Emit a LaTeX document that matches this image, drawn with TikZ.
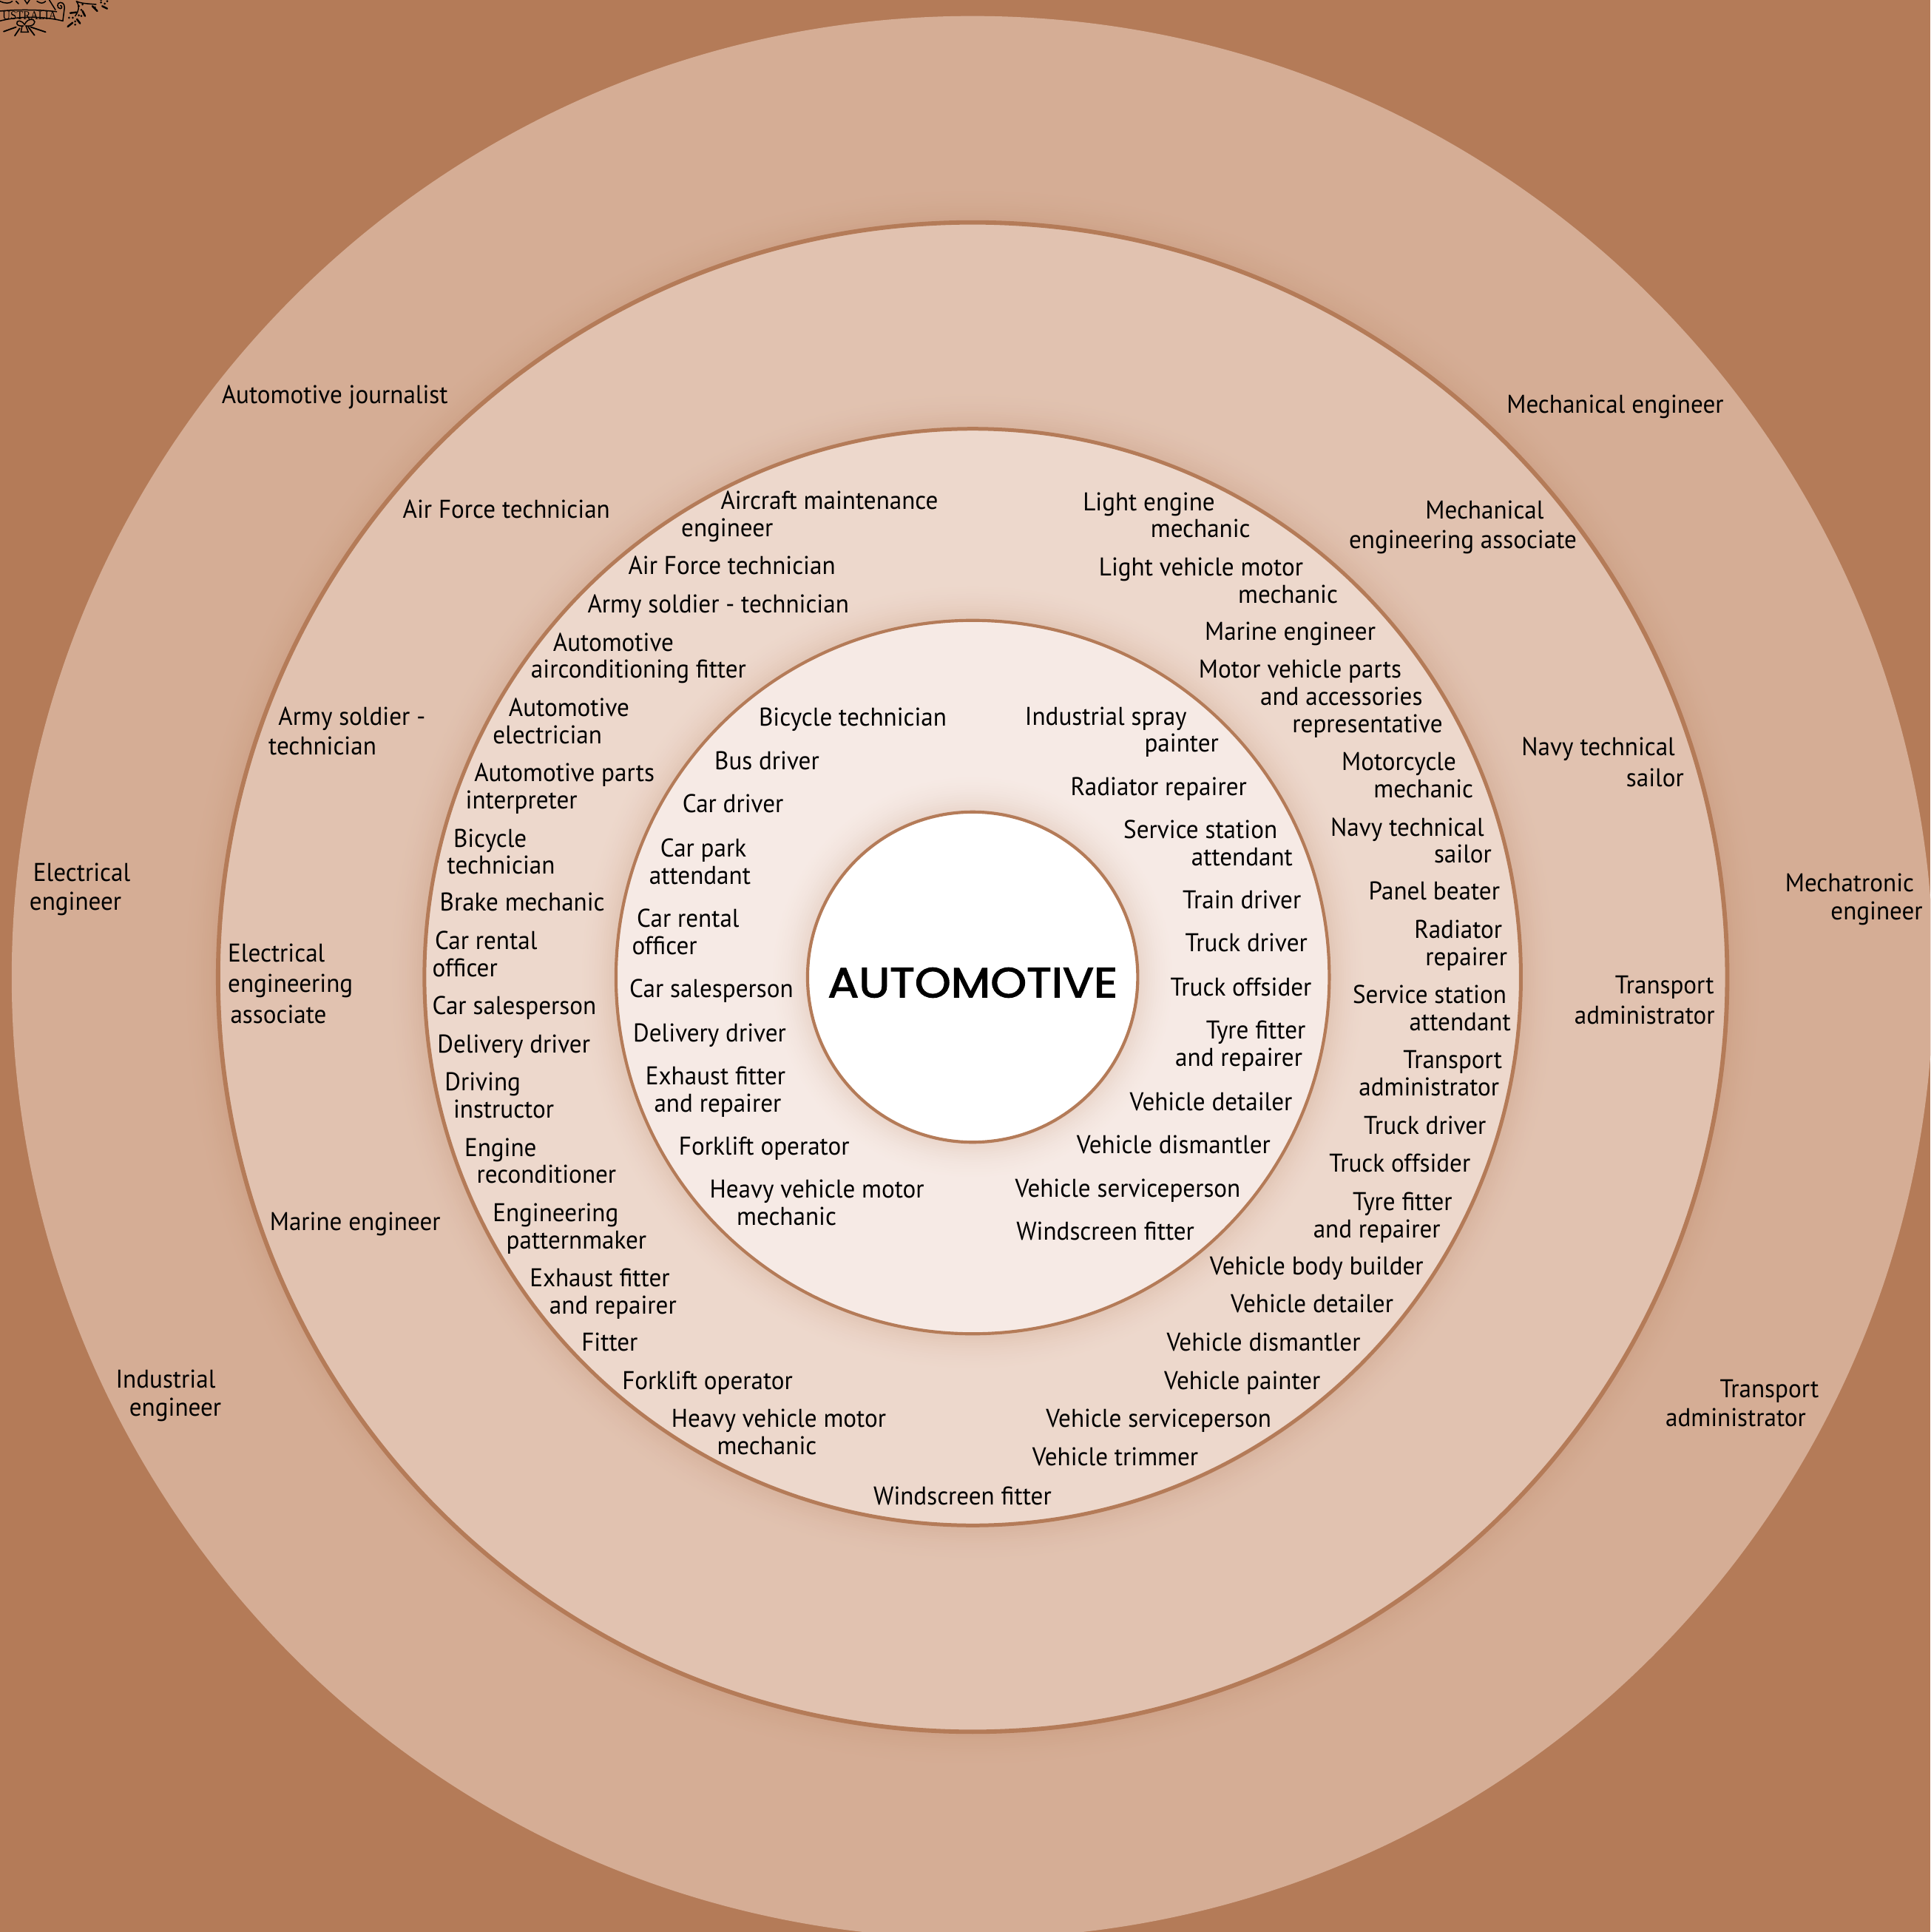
\documentclass[tikz,border=0pt]{standalone}
\usepackage{fontspec}
\usepackage{graphicx}
\setmainfont[FakeStretch=0.955]{PT Sans}
\definecolor{ringO}{HTML}{B47B58}
\definecolor{ringA}{HTML}{D5AD95}
\definecolor{ringB}{HTML}{E1C2B0}
\definecolor{ringC}{HTML}{EDD8CC}
\definecolor{ringD}{HTML}{F6EAE5}
\newlength\px
\setlength\px{0.02cm}
\newcommand\lsize{\fontsize{11.85pt}{13pt}\selectfont}
\newcounter{lab}
\tikzset{
  lab/.style={anchor=base west,inner sep=0pt,outer sep=0pt,font=\lsize,text=black},
  ringline/.style={draw=ringO,line width=#1\px},
}
\newcommand\one[3]{\stepcounter{lab}\node[lab] (t\arabic{lab}) at (#1,#2+7.4) {#3};}
% x y lead dx1 l1 dx2 l2
\newcommand\two[7]{\stepcounter{lab}\node[lab] (t\arabic{lab}) at (#1,#2+7.4) {\vtop{\baselineskip=#3\px\hbox{\kern#4\px #5}\hbox{\kern#6\px #7}}};}
\newcommand\three[9]{\stepcounter{lab}\node[lab] (t\arabic{lab}) at (#1,#2+7.4) {\vtop{\baselineskip=#3\px\hbox{\kern#4\px #5}\hbox{\kern#6\px #7}\hbox{\kern#8\px #9}}};}
% soft glow round a circle: radius, colour of the ring it falls on
\newcommand\glow[3]{\foreach \k in {32,30,...,2}{%
  \pgfmathsetmacro\p{#3*(1-\k/34)*(1-\k/34)}%
  \fill[ringO!\p!#2] (789.5,793) circle ({#1+\k});}}
\begin{document}
\begin{tikzpicture}[x=0.02cm,y=-0.02cm]
\useasboundingbox (0,0) rectangle (1567,1568);
\begin{scope}
\clip (0,0) rectangle (1567,1568);
\fill[ringO] (0,0) rectangle (1567,1568);
\fill[ringA] (789.5,793) circle (780);
\glow{612}{ringA}{22}
\fill[ringB,ringline=3.5] (789.5,793) circle (612.5);
\glow{445}{ringB}{22}
\fill[ringC,ringline=3] (789.5,793) circle (445);
\glow{289}{ringC}{22}
\fill[ringD,ringline=2.5] (789.5,793) circle (289.5);
\glow{134}{ringD}{20}
\fill[white,ringline=2.5] (789.5,793) circle (134);
% crest
\begin{scope}[black,line width=0.9\px,line cap=round]
\draw (0,9) .. controls (15,7.5) and (35,8) .. (46,9.5);
\draw (0,17) .. controls (15,13) and (35,13) .. (51,17) -- (52,9) .. controls (53,5) and (52,2) .. (49,2) .. controls (46,2) and (46,7) .. (49,7) .. controls (51,7) and (50,4) .. (49,4.5);
\node[inner sep=0pt] (crest) at (24,13) {\resizebox{44\px}{6.5\px}{\fontspec{Liberation Serif}USTRALIA}};
\draw (19,21) .. controls (13,22) and (12,17) .. (16,17) .. controls (18,17) and (19,19) .. (20,20)
      .. controls (21,17) and (24,15) .. (27,16) .. controls (30,18) and (27,22) .. (21,21);
\draw (18,21) -- (17,26) -- (23,26) -- (21,21);
\draw[line width=1.1\px] (3,25.6) -- (13,22) (16,23) -- (12,29) (25,22) -- (37,26) (23,22) -- (28,28.6);
\draw (20,0) -- (22,3) -- (24,0) (0,1) .. controls (4,3) and (8,3) .. (10,1) (13,1) -- (15,3) (40,0) -- (45,8) (30,1) .. controls (33,3) and (35,3) .. (37,1);
\draw (62,1) .. controls (66,3) and (72,3) .. (78,3.6) (62,1) .. controls (65,5) and (64,9) .. (61,13);
\draw[line width=1.5\px] (55,21.6) -- (59,18.4) (65,19) -- (62.5,15.6) (57,10.6) -- (62,10) (69,13) -- (67,9) (75,5) -- (79,9) (83,5) -- (87,7);
\foreach \a/\b in {56/14.4,59/14.4,61/17.4,61/20,64/12.4,66/13,66/8,64/5,67/3.6,77/6,82/2,85/3,87/1,82/0}{\fill (\a,\b) circle (0.9);}
\end{scope}
\end{scope}
% centre
\node[inner sep=0pt] (title) at (789.5,797.5) {\resizebox{235\px}{24\px}{\fontspec[FakeBold=2.2]{Poppins}AUTOMOTIVE}};
% outer ring
\one{180}{320}{Automotive journalist}
\one{1223}{328}{Mechanical engineer}
\two{24}{708}{23}{3}{Electrical}{0}{engineer}
\two{1449}{716}{23}{0}{Mechatronic}{37}{engineer}
\two{94}{1119}{23}{0}{Industrial}{11}{engineer}
\two{1352}{1127}{23}{44}{Transport}{0}{administrator}
% ring 2
\one{327}{413}{Air Force technician}
\two{1095}{414}{24}{62}{Mechanical}{0}{engineering associate}
\two{218}{581}{24}{8}{Army soldier -}{0}{technician}
\two{1235}{606}{25}{0}{Navy technical}{85}{sailor}
\three{185}{773}{25}{0}{Electrical}{0}{engineering}{2}{associate}
\two{1278}{799}{25}{33}{Transport}{0}{administrator}
\one{219}{991}{Marine engineer}
% ring 3
\two{553}{406}{22}{32}{Aircraft maintenance}{0}{engineer}
\one{510}{459}{Air Force technician}
\one{477}{490}{Army soldier - technician}
\two{431}{521}{22}{18}{Automotive}{0}{airconditioning fitter}
\two{400}{574}{22}{13}{Automotive}{0}{electrician}
\two{378}{627}{22}{7}{Automotive parts}{0}{interpreter}
\two{363}{680}{22}{5}{Bicycle}{0}{technician}
\one{357}{732}{Brake mechanic}
\two{351}{763}{22}{2}{Car rental}{0}{officer}
\one{351}{816}{Car salesperson}
\one{355}{847}{Delivery driver}
\two{361}{878}{22}{0}{Driving}{7}{instructor}
\two{377}{931}{22}{0}{Engine}{10}{reconditioner}
\two{400}{984}{22}{0}{Engineering}{11}{patternmaker}
\two{430}{1037}{22}{0}{Exhaust fitter}{16}{and repairer}
\one{472}{1089}{Fitter}
\one{505}{1120}{Forklift operator}
\two{545}{1151}{22}{0}{Heavy vehicle motor}{37}{mechanic}
\one{709}{1214}{Windscreen fitter}
\one{838}{1182}{Vehicle trimmer}
\one{849}{1151}{Vehicle serviceperson}
\one{945}{1120}{Vehicle painter}
\one{947}{1089}{Vehicle dismantler}
\one{999}{1058}{Vehicle detailer}
\one{982}{1027}{Vehicle body builder}
\two{1066}{975}{22}{32}{Tyre fitter}{0}{and repairer}
\one{1079}{944}{Truck offsider}
\one{1107}{913}{Truck driver}
\two{1103}{860}{22}{36}{Transport}{0}{administrator}
\two{1098}{807}{22}{0}{Service station}{46}{attendant}
\two{1148}{754}{22}{0}{Radiator}{9}{repairer}
\one{1111}{723}{Panel beater}
\two{1080}{671}{22}{0}{Navy technical}{84}{sailor}
\two{1089}{618}{22}{0}{Motorcycle}{26}{mechanic}
\three{973}{543}{22}{0}{Motor vehicle parts}{50}{and accessories}{76}{representative}
\one{978}{512}{Marine engineer}
\two{892}{460}{22}{0}{Light vehicle motor}{113}{mechanic}
\two{879}{407}{22}{0}{Light engine}{55}{mechanic}
% ring 4
\one{616}{582}{Bicycle technician}
\one{580}{617}{Bus driver}
\one{554}{652}{Car driver}
\two{527}{688}{22}{9}{Car park}{0}{attendant}
\two{513}{745}{22}{4}{Car rental}{0}{officer}
\one{511}{802}{Car salesperson}
\one{514}{838}{Delivery driver}
\two{524}{873}{22}{0}{Exhaust fitter}{7}{and repairer}
\one{551}{930}{Forklift operator}
\two{576}{965}{22}{0}{Heavy vehicle motor}{22}{mechanic}
\one{825}{999}{Windscreen fitter}
\one{824}{964}{Vehicle serviceperson}
\one{874}{929}{Vehicle dismantler}
\one{917}{894}{Vehicle detailer}
\two{954}{836}{22}{25}{Tyre fitter}{0}{and repairer}
\one{950}{801}{Truck offsider}
\one{962}{765}{Truck driver}
\one{960}{730}{Train driver}
\two{912}{673}{22}{0}{Service station}{55}{attendant}
\one{869}{638}{Radiator repairer}
\two{832}{581}{22}{0}{Industrial spray}{97}{painter}
\end{tikzpicture}
\end{document}
